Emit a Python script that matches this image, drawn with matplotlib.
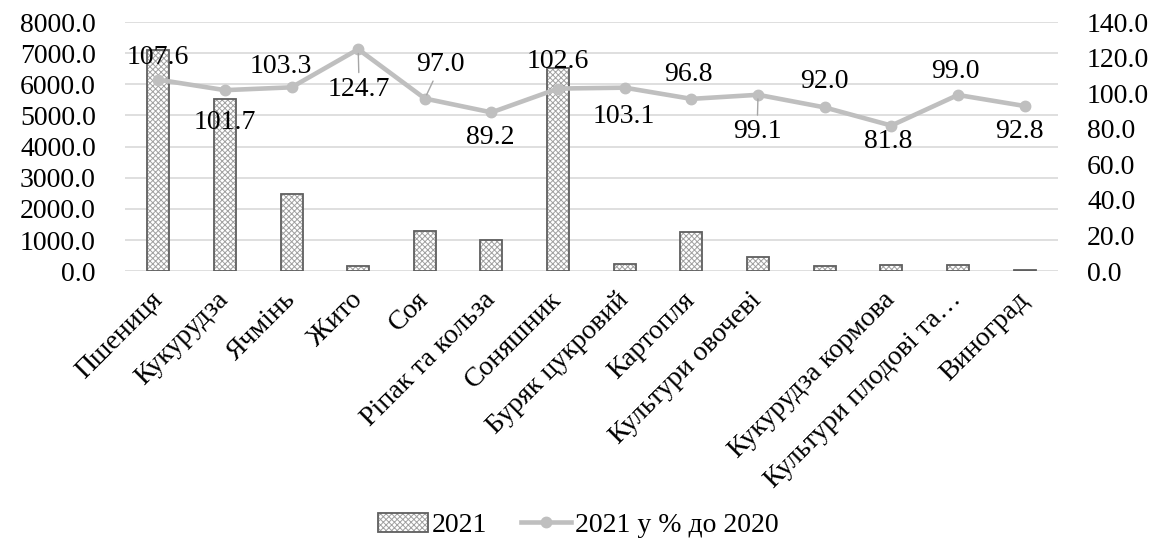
import numpy as np
import matplotlib
matplotlib.use("Agg")
import matplotlib.pyplot as plt
from matplotlib.patches import Patch
from matplotlib.lines import Line2D
from matplotlib.ticker import FormatStrFormatter

# Categories and values
# (the 11th category has no visible label in the source chart)
crops = ["Пшениця", "Кукурудза", "Ячмінь", "Жито", "Соя", "Ріпак та кольза",
         "Соняшник", "Буряк цукровий", "Картопля", "Культури овочеві", "",
         "Кукурудза кормова", "Культури плодові та…", "Виноград"]
area_2021 = [7100, 5530, 2470, 160, 1285, 1000, 6520, 220, 1260, 450, 160,
             190, 190, 40]
pct_2020 = [107.6, 101.7, 103.3, 124.7, 97.0, 89.2, 102.6, 103.1, 96.8, 99.1,
            92.0, 81.8, 99.0, 92.8]

# label offsets in pixels (dx, dy) and whether a leader line is drawn
label_offsets = [(0, 22), (0, -32), (-11, 21), (1, -40), (16, 34), (-1, -25),
                 (0, 27), (-1, -29), (-3, 24), (-1, -37), (0, 26), (-3, -16),
                 (-3, 23), (-5, -26)]
leaders = [False, False, False, True, True, False, False, False, False, True,
           False, False, False, False]

FS = 20
plt.rcParams["font.family"] = ["Liberation Serif", "DejaVu Serif"]
plt.rcParams["hatch.linewidth"] = 0.7

fig = plt.figure(figsize=(11.7, 5.5), dpi=100)
ax = fig.add_axes([0.1068, 0.507, 0.7974, 0.453])
ax2 = ax.twinx()

x = np.arange(len(crops))
# hatched fill, then a darker outline on top
ax.bar(x, area_2021, width=0.33, color="white", edgecolor="#a0a0a0",
       linewidth=0, hatch="xxxxxx", zorder=2)
ax.bar(x, area_2021, width=0.33, color="none", edgecolor="#5f5f5f",
       linewidth=1.3, zorder=2)
ax.set_ylim(0, 8000)
ax.set_yticks(np.arange(0, 8001, 1000))
ax.yaxis.set_major_formatter(FormatStrFormatter("%.1f"))
ax.grid(axis="y", color="#d9d9d9", linewidth=1.2, zorder=0)
ax.set_axisbelow(True)
ax.set_xlim(-0.5, len(crops) - 0.5)
ax.set_xticks(x)
ax.set_xticklabels(crops, rotation=45, ha="right", va="center",
                   rotation_mode="anchor")
ax.tick_params(axis="y", length=0, labelsize=FS, pad=21)
ax.tick_params(axis="x", length=0, labelsize=FS, pad=18)

ax2.plot(x, pct_2020, color="#bfbfbf", linewidth=3.3, marker="o",
         markersize=7.5, zorder=3)
ax2.set_ylim(0, 140)
ax2.set_yticks(np.arange(0, 141, 20))
ax2.yaxis.set_major_formatter(FormatStrFormatter("%.1f"))
ax2.tick_params(axis="y", length=0, labelsize=FS, pad=21)

for i, v in enumerate(pct_2020):
    dx, dy = label_offsets[i]
    kw = {}
    if leaders[i]:
        kw["arrowprops"] = dict(arrowstyle="-", color="#a6a6a6", lw=1,
                                shrinkA=1, shrinkB=3)
    ax2.annotate(f"{v:.1f}", (x[i], v), xytext=(dx, dy),
                 textcoords="offset pixels", ha="center", va="center",
                 fontsize=FS, zorder=4, **kw)

for a in (ax, ax2):
    for s in a.spines.values():
        s.set_visible(False)

handles = [(Patch(facecolor="white", edgecolor="#a0a0a0", hatch="xxxxxx",
                  linewidth=0),
            Patch(facecolor="none", edgecolor="#5f5f5f", linewidth=1.3)),
           Line2D([], [], color="#bfbfbf", linewidth=3.3, marker="o",
                  markersize=7.5)]
fig.legend(handles, ["2021", "2021 у % до 2020"], loc="center",
           bbox_to_anchor=(0.494, 0.045), ncol=2, frameon=False, fontsize=FS,
           handlelength=1.8, handletextpad=0.15, columnspacing=1.2)

fig.savefig("out.png", dpi=100)
